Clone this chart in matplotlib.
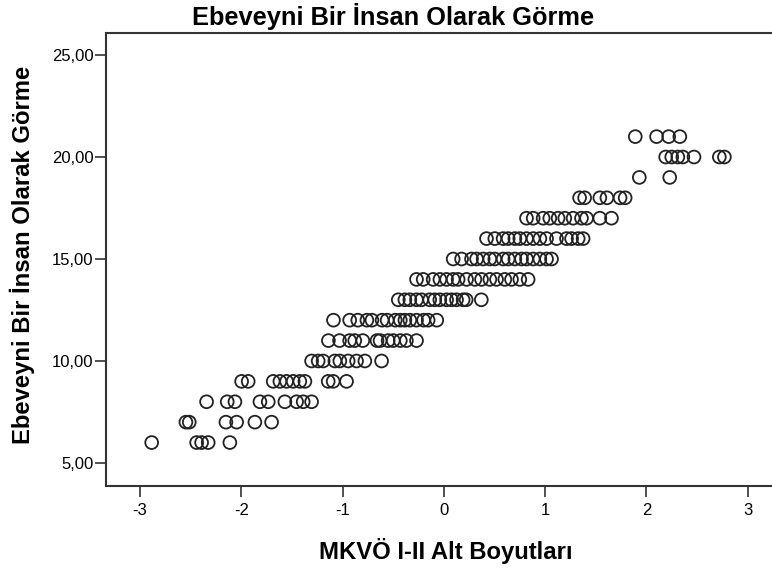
import numpy as np
import matplotlib.pyplot as plt
from matplotlib.ticker import FuncFormatter

plt.rcParams['font.family'] = ['Liberation Sans', 'DejaVu Sans']

# scores per row of the scatter (y value -> list of x values)
y6 = [-2.885, -2.441, -2.392, -2.327, -2.113]
y7 = [-2.547, -2.514, -2.152, -2.046, -1.866, -1.701]
y8 = [-2.343, -2.139, -2.063, -1.816, -1.734, -1.570, -1.454, -1.389, -1.306]
y9 = [-1.997, -1.932, -1.685, -1.619, -1.553, -1.488, -1.422, -1.372, -1.142, -1.093, -0.961]
y10 = [-1.306, -1.241, -1.192, -1.076, -1.027, -0.945, -0.862, -0.780, -0.615]
y11 = [-1.14, -1.03, -0.93, -0.88, -0.80, -0.66, -0.63, -0.55, -0.50, -0.43, -0.37, -0.27]
y12 = [-1.09, -0.93, -0.85, -0.76, -0.71, -0.61, -0.56, -0.48, -0.43, -0.385, -0.336,
       -0.27, -0.20, -0.155, -0.07]
y13 = [-0.45, -0.385, -0.336, -0.27, -0.22, -0.14, -0.09, -0.04, 0.027, 0.076, 0.125,
       0.19, 0.22, 0.37]
y14 = [-0.27, -0.204, -0.106, -0.039, 0.027, 0.092, 0.141, 0.224, 0.306, 0.372, 0.454,
       0.520, 0.602, 0.668, 0.750, 0.832]
y15 = [0.092, 0.175, 0.273, 0.323, 0.388, 0.454, 0.503, 0.585, 0.635, 0.701, 0.767,
       0.816, 0.882, 0.948, 1.014, 1.063]
y16 = [0.421, 0.503, 0.585, 0.635, 0.701, 0.750, 0.816, 0.882, 0.948, 1.014, 1.112,
       1.211, 1.261, 1.326, 1.375]
y17 = [0.816, 0.882, 0.980, 1.046, 1.128, 1.194, 1.276, 1.359, 1.409, 1.540, 1.655]
y18 = [1.34, 1.39, 1.54, 1.61, 1.74, 1.79]
y19 = [1.93, 2.23]
y20 = [2.19, 2.25, 2.31, 2.36, 2.47, 2.72, 2.77]
y21 = [1.89, 2.10, 2.22, 2.33]

rows = {6: y6, 7: y7, 8: y8, 9: y9, 10: y10, 11: y11, 12: y12, 13: y13,
        14: y14, 15: y15, 16: y16, 17: y17, 18: y18, 19: y19, 20: y20, 21: y21}

xs = np.concatenate([np.array(v) for v in rows.values()])
ys = np.concatenate([np.full(len(v), k) for k, v in rows.items()])

title = "Ebeveyni Bir İnsan Olarak Görme"
xlabel = "MKVÖ I-II Alt Boyutları"
ylabel = "Ebeveyni Bir İnsan Olarak Görme"
xticks = [-3, -2, -1, 0, 1, 2, 3]
yticks = [5, 10, 15, 20, 25]

fig = plt.figure(figsize=(7.72, 5.68), dpi=100)
ax = fig.add_axes([106/772, 1 - 486/568, 1 - 106/772, (486 - 33)/568])

ax.scatter(xs, ys, s=85, facecolors='none', edgecolors='#222222', linewidths=1.3)

ax.set_xlim(-3.336, 3.24)
ax.set_ylim(3.87, 26.08)
ax.set_xticks(xticks)
ax.set_yticks(yticks)
ax.set_xticklabels([str(t) for t in xticks])  # plain hyphen minus like the original
ax.yaxis.set_major_formatter(FuncFormatter(lambda v, p: f"{v:.2f}".replace('.', ',')))
ax.tick_params(length=8, width=1.2, labelsize=12, color='#333333')
ax.tick_params(axis='y', pad=1)
ax.tick_params(axis='x', pad=4)
ax.spines['right'].set_visible(False)
for s in ['left', 'bottom', 'top']:
    ax.spines[s].set_linewidth(1.5)
    ax.spines[s].set_color('#333333')

fig.text(393/772, 1 - 17/568, title, ha='center', va='center',
         fontsize=18.3, fontweight='bold')
fig.text(446/772, 1 - 551/568, xlabel, ha='center', va='center',
         fontsize=17.2, fontweight='bold')
fig.text(22/772, 1 - 255/568, ylabel, ha='center', va='center', rotation=90,
         fontsize=17.2, fontweight='bold')

fig.savefig('out.png', dpi=100)
